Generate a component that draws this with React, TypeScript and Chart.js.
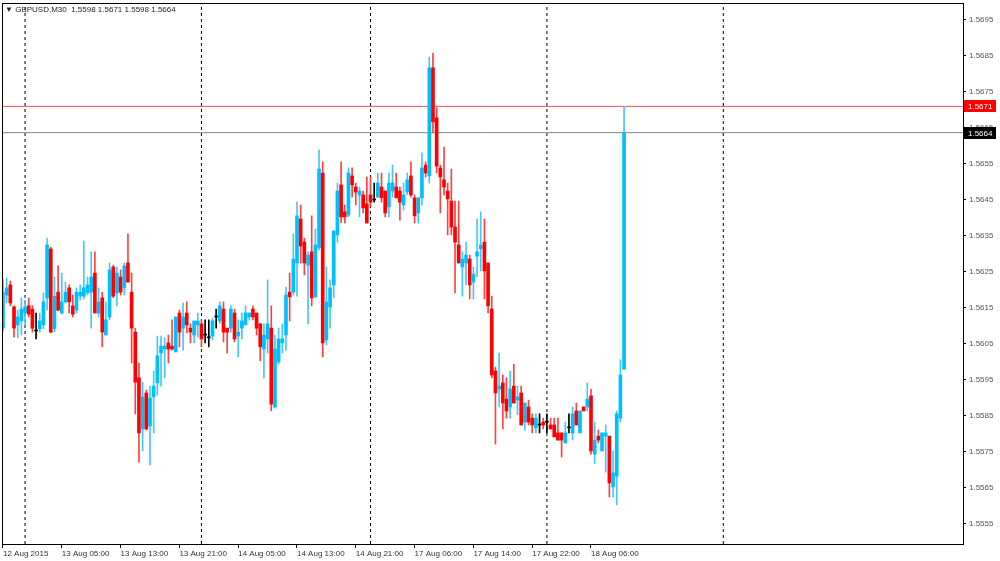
import React, { useEffect, useRef } from 'react';
import { Chart, registerables } from 'chart.js';
Chart.register(...registerables);

// GBPUSD M30 candles (index 0 = 12 Aug 2015 21:00)
const opens = [
  1.56094,1.56186,1.56214,1.56153,1.56103,1.56114,1.56136,1.56156,1.56147,1.56086,
  1.56092,1.56103,1.56178,1.56314,1.56092,1.56194,1.56136,1.56167,1.56206,1.56156,
  1.56144,1.56183,1.56183,1.56192,1.56194,1.56247,1.56136,1.56178,1.56075,1.56125,
  1.56264,1.56192,1.56236,1.56206,1.56275,1.56194,1.56083,1.55956,1.55814,1.55914,
  1.55822,1.55903,1.55942,1.56025,1.56036,1.56053,1.56044,1.56028,1.56136,1.56094,
  1.56136,1.56094,1.56075,1.56103,1.56106,1.56075,1.56067,1.56072,1.56125,1.56114,
  1.56147,1.56094,1.56094,1.56136,1.56072,1.56094,1.56103,1.56125,1.56147,1.56136,
  1.56106,1.56036,1.56064,1.56094,1.55875,1.56000,1.56053,1.56075,1.56194,1.56194,
  1.56275,1.56397,1.56333,1.56269,1.56306,1.56181,1.56317,1.56525,1.56061,1.56153,
  1.56214,1.56353,1.56492,1.56417,1.56408,1.56517,1.56486,1.56464,1.56464,1.56439,
  1.56464,1.56450,1.56458,1.56486,1.56475,1.56431,1.56475,1.56486,1.56475,1.56436,
  1.56472,1.56517,1.56456,1.56414,1.56456,1.56547,1.56517,1.56817,1.56678,1.56539,
  1.56506,1.56475,1.56447,1.56375,1.56325,1.56264,1.56275,1.56286,1.56222,1.56294,
  1.56314,1.56333,1.56275,1.56147,1.55975,1.55925,1.55942,1.55897,1.55875,1.55933,
  1.55894,1.55914,1.55833,1.55875,1.55844,1.55817,1.55825,1.55833,1.55833,1.55825,
  1.55825,1.55803,1.55803,1.55775,1.55817,1.55803,1.55864,1.55803,1.55875,1.55875,
  1.55906,1.55744,1.55794,1.55753,1.55794,1.55794,1.55653,1.55683,1.55844,1.55980,
];
const highs = [
  1.56231,1.56233,1.56225,1.56156,1.56144,1.56178,1.56172,1.56178,1.56156,1.56136,
  1.56136,1.56192,1.56344,1.56319,1.56236,1.56267,1.56247,1.56222,1.56214,1.56186,
  1.56206,1.56214,1.56336,1.56236,1.56306,1.56306,1.56206,1.56194,1.56167,1.56275,
  1.56269,1.56264,1.56256,1.56275,1.56356,1.56247,1.56094,1.55997,1.55944,1.55922,
  1.55933,1.55975,1.56072,1.56072,1.56067,1.56075,1.56117,1.56125,1.56144,1.56164,
  1.56167,1.56106,1.56108,1.56136,1.56117,1.56117,1.56117,1.56122,1.56147,1.56167,
  1.56167,1.56094,1.56156,1.56147,1.56117,1.56136,1.56156,1.56136,1.56156,1.56136,
  1.56106,1.56106,1.56228,1.56156,1.56075,1.56094,1.56106,1.56208,1.56247,1.56356,
  1.56444,1.56436,1.56344,1.56306,1.56406,1.56369,1.56589,1.56556,1.56264,1.56228,
  1.56364,1.56497,1.56556,1.56436,1.56539,1.56539,1.56497,1.56486,1.56475,1.56514,
  1.56514,1.56497,1.56525,1.56525,1.56475,1.56525,1.56547,1.56525,1.56486,1.56497,
  1.56525,1.56556,1.56464,1.56456,1.56581,1.56556,1.56847,1.56858,1.56706,1.56547,
  1.56597,1.56497,1.56536,1.56447,1.56447,1.56306,1.56333,1.56297,1.56264,1.56397,
  1.56417,1.56397,1.56275,1.56183,1.55986,1.56025,1.55964,1.55956,1.55975,1.55994,
  1.55933,1.55933,1.55886,1.55894,1.55856,1.55856,1.55856,1.55844,1.55856,1.55844,
  1.55844,1.55844,1.55803,1.55833,1.55856,1.55875,1.55886,1.55864,1.55875,1.55942,
  1.55925,1.55833,1.55811,1.55803,1.55825,1.55794,1.55753,1.55864,1.56006,1.56710,
];
const lows = [
  1.56086,1.56164,1.56156,1.56069,1.56067,1.56075,1.56103,1.56125,1.56083,1.56064,
  1.56083,1.56092,1.56144,1.56081,1.56083,1.56142,1.56133,1.56164,1.56136,1.56125,
  1.56136,1.56172,1.56175,1.56186,1.56094,1.56136,1.56125,1.56042,1.56075,1.56117,
  1.56178,1.56156,1.56186,1.56186,1.56222,1.55997,1.55856,1.55722,1.55753,1.55811,
  1.55714,1.55803,1.55908,1.55933,1.55956,1.55997,1.56033,1.56028,1.56042,1.56033,
  1.56081,1.56053,1.56053,1.56069,1.56042,1.56053,1.56042,1.56061,1.56094,1.56108,
  1.56056,1.56025,1.56083,1.56056,1.56014,1.56064,1.56103,1.56117,1.56117,1.56075,
  1.56003,1.55956,1.56025,1.55864,1.55872,1.55994,1.56025,1.56033,1.56114,1.56186,
  1.56183,1.56275,1.56242,1.56106,1.56156,1.56178,1.56311,1.56014,1.56047,1.56094,
  1.56178,1.56333,1.56386,1.56386,1.56403,1.56458,1.56436,1.56403,1.56414,1.56386,
  1.56431,1.56444,1.56458,1.56444,1.56403,1.56403,1.56458,1.56456,1.56394,1.56422,
  1.56464,1.56458,1.56386,1.56386,1.56436,1.56514,1.56497,1.56636,1.56525,1.56414,
  1.56464,1.56353,1.56353,1.56192,1.56275,1.56183,1.56214,1.56175,1.56175,1.56236,
  1.56253,1.56175,1.56136,1.55956,1.55772,1.55875,1.55814,1.55844,1.55844,1.55886,
  1.55853,1.55825,1.55811,1.55825,1.55803,1.55803,1.55803,1.55814,1.55803,1.55814,
  1.55792,1.55783,1.55736,1.55775,1.55803,1.55783,1.55825,1.55803,1.55864,1.55864,
  1.55744,1.55717,1.55775,1.55753,1.55694,1.55625,1.55625,1.55603,1.55833,1.55980,
];
const closes = [
  1.56194,1.56206,1.56164,1.56094,1.56125,1.56147,1.56153,1.56133,1.56094,1.56086,
  1.56114,1.56167,1.56325,1.56083,1.56183,1.56144,1.56167,1.56194,1.56167,1.56133,
  1.56194,1.56194,1.56206,1.56214,1.56236,1.56136,1.56167,1.56083,1.56117,1.56256,
  1.56183,1.56247,1.56194,1.56267,1.56222,1.56094,1.55944,1.55803,1.55903,1.55814,
  1.55900,1.55933,1.56017,1.56044,1.56044,1.56036,1.56036,1.56125,1.56083,1.56125,
  1.56103,1.56083,1.56114,1.56114,1.56064,1.56075,1.56067,1.56114,1.56125,1.56156,
  1.56083,1.56083,1.56147,1.56064,1.56083,1.56114,1.56136,1.56136,1.56125,1.56094,
  1.56042,1.56075,1.56106,1.55883,1.56036,1.56064,1.56064,1.56186,1.56181,1.56286,
  1.56406,1.56322,1.56275,1.56297,1.56178,1.56325,1.56536,1.56053,1.56167,1.56206,
  1.56364,1.56475,1.56403,1.56403,1.56525,1.56492,1.56472,1.56475,1.56428,1.56386,
  1.56444,1.56450,1.56497,1.56456,1.56414,1.56497,1.56497,1.56456,1.56444,1.56464,
  1.56506,1.56464,1.56406,1.56456,1.56539,1.56525,1.56817,1.56667,1.56544,1.56514,
  1.56486,1.56453,1.56375,1.56333,1.56275,1.56286,1.56297,1.56214,1.56244,1.56306,
  1.56325,1.56253,1.56156,1.55964,1.55914,1.55933,1.55886,1.55864,1.55925,1.55886,
  1.55903,1.55825,1.55886,1.55833,1.55825,1.55844,1.55825,1.55825,1.55833,1.55814,
  1.55792,1.55783,1.55783,1.55803,1.55817,1.55856,1.55825,1.55864,1.55864,1.55897,
  1.55753,1.55783,1.55783,1.55803,1.55803,1.55664,1.55692,1.55856,1.55964,1.56637,
];

const xTickIndex = [0, 16, 32, 48, 64, 80, 96, 112, 128, 144, 160];
const xTickLabels = [
  '12 Aug 2015', '13 Aug 05:00', '13 Aug 13:00', '13 Aug 21:00', '14 Aug 05:00',
  '14 Aug 13:00', '14 Aug 21:00', '17 Aug 06:00', '17 Aug 14:00', '17 Aug 22:00', '18 Aug 06:00',
];
const daySeparators = [6, 54, 100, 148, 196];
const yTickValues = [
  1.5555, 1.5565, 1.5575, 1.5585, 1.5595, 1.5605, 1.5615, 1.5625,
  1.5635, 1.5645, 1.5655, 1.5665, 1.5675, 1.5685, 1.5695,
];
const askPrice = 1.5671;
const bidPrice = 1.56637;
const titleText = '▼ GBPUSD,M30  1.5598 1.5671 1.5598 1.5664';

const X_MIN = -0.272;
const X_MAX = 261.225;
const Y_MIN = 1.554944;
const Y_MAX = 1.569972;

const BULL = '#00BFFF';
const BEAR = '#FF0000';
const DOJI = '#000000';
const BULL_WICK = '#45C8F8';
const BEAR_WICK = '#FF4040';

const dir = (i: number) => (closes[i] > opens[i] ? 1 : closes[i] < opens[i] ? -1 : 0);

const priceTagPlugin = {
  id: 'priceTags',
  afterDraw(chart: any) {
    const { ctx, chartArea } = chart;
    const y = chart.scales.y;
    ctx.save();
    ctx.strokeStyle = '#000';
    ctx.lineWidth = 1;
    ctx.strokeRect(chartArea.left + 0.5, chartArea.top + 0.5, chartArea.right - chartArea.left, chartArea.bottom - chartArea.top);
    const tags = [
      { v: askPrice, bg: '#FF0000' },
      { v: bidPrice, bg: '#000000' },
    ];
    ctx.font = '8px "Liberation Sans", Arial, sans-serif';
    ctx.textBaseline = 'middle';
    ctx.textAlign = 'left';
    for (const t of tags) {
      const py = Math.round(y.getPixelForValue(t.v));
      ctx.fillStyle = t.bg;
      ctx.fillRect(chartArea.right + 1, py - 6, 32, 12);
      ctx.fillStyle = '#fff';
      ctx.fillText(t.v.toFixed(4), chartArea.right + 5, py + 0.5);
    }
    ctx.restore();
  },
};

export default function App() {
  const ref = useRef<HTMLCanvasElement>(null);
  useEffect(() => {
    document.body.style.margin = '0';
    const bodies = opens.map((o, i) => ({ x: i, y: [o, closes[i]] }));
    const wicks = opens.map((_, i) => ({ x: i, y: [lows[i], highs[i]] }));
    const sepSets = daySeparators.map((d) => ({
      type: 'line' as const,
      data: [{ x: d, y: Y_MIN }, { x: d, y: Y_MAX }],
      borderColor: '#000',
      borderWidth: 1,
      borderDash: [3, 3],
      pointRadius: 0,
    }));
    const chart = new Chart(ref.current!, {
      type: 'bar',
      data: {
        datasets: [
          {
            data: bodies as any,
            grouped: false,
            barThickness: 3,
            minBarLength: 1,
            borderWidth: 0,
            backgroundColor: (c: any) => {
              const d = dir(c.dataIndex);
              return d > 0 ? BULL : d < 0 ? BEAR : DOJI;
            },
          } as any,
          {
            data: wicks as any,
            grouped: false,
            barThickness: 1,
            borderWidth: 0,
            backgroundColor: (c: any) => {
              const d = dir(c.dataIndex);
              return d > 0 ? BULL_WICK : d < 0 ? BEAR_WICK : DOJI;
            },
          } as any,
          {
            type: 'line',
            data: [{ x: X_MIN, y: askPrice }, { x: X_MAX, y: askPrice }],
            borderColor: '#FF4A4A',
            borderWidth: 1,
            pointRadius: 0,
          } as any,
          {
            type: 'line',
            data: [{ x: X_MIN, y: bidPrice }, { x: X_MAX, y: bidPrice }],
            borderColor: '#7B8794',
            borderWidth: 1,
            pointRadius: 0,
          } as any,
          ...(sepSets as any[]),
        ],
      },
      options: {
        responsive: false,
        maintainAspectRatio: false,
        animation: false,
        layout: { padding: { left: 2, top: 3, right: 0, bottom: 0 } },
        plugins: { legend: { display: false }, tooltip: { enabled: false } },
        scales: {
          x: {
            type: 'linear',
            min: X_MIN,
            max: X_MAX,
            offset: false,
            grid: { offset: false, drawOnChartArea: false, drawTicks: true, tickLength: 4, color: '#000' },
            border: { display: false },
            afterBuildTicks: (s: any) => {
              s.ticks = xTickIndex.map((v) => ({ value: v }));
            },
            afterFit: (s: any) => {
              s.height = 17;
              s.paddingLeft = 0;
              s.paddingRight = 0;
            },
            ticks: {
              autoSkip: false,
              maxRotation: 0,
              minRotation: 0,
              align: 'start',
              padding: 1,
              color: '#333',
              font: { family: '"Liberation Sans", Arial, sans-serif', size: 8 },
              callback: (v: any) => {
                const k = xTickIndex.indexOf(Number(v));
                return k >= 0 ? xTickLabels[k] : '';
              },
            },
          } as any,
          y: {
            type: 'linear',
            position: 'right',
            min: Y_MIN,
            max: Y_MAX,
            beginAtZero: false,
            grid: { drawOnChartArea: false, drawTicks: true, tickLength: 3, color: '#000' },
            border: { display: false },
            afterBuildTicks: (s: any) => {
              s.ticks = yTickValues.map((v) => ({ value: v }));
            },
            afterFit: (s: any) => {
              s.width = 37;
              s.paddingTop = 0;
              s.paddingBottom = 0;
            },
            ticks: {
              padding: 3,
              color: '#555',
              font: { family: '"Liberation Sans", Arial, sans-serif', size: 8 },
              callback: (v: any) => Number(v).toFixed(4),
            },
          } as any,
        },
      },
      plugins: [priceTagPlugin],
    });
    return () => chart.destroy();
  }, []);
  return (
    <div style={{ position: 'relative', width: 1000, height: 561, background: '#fff' }}>
      <canvas ref={ref} width={1000} height={561} style={{ display: 'block' }} />
      <div
        style={{
          position: 'absolute',
          left: 5,
          top: 5,
          font: '8px "Liberation Sans", Arial, sans-serif',
          lineHeight: '10px',
          color: '#222',
          whiteSpace: 'pre',
        }}
      >
        {titleText}
      </div>
    </div>
  );
}
